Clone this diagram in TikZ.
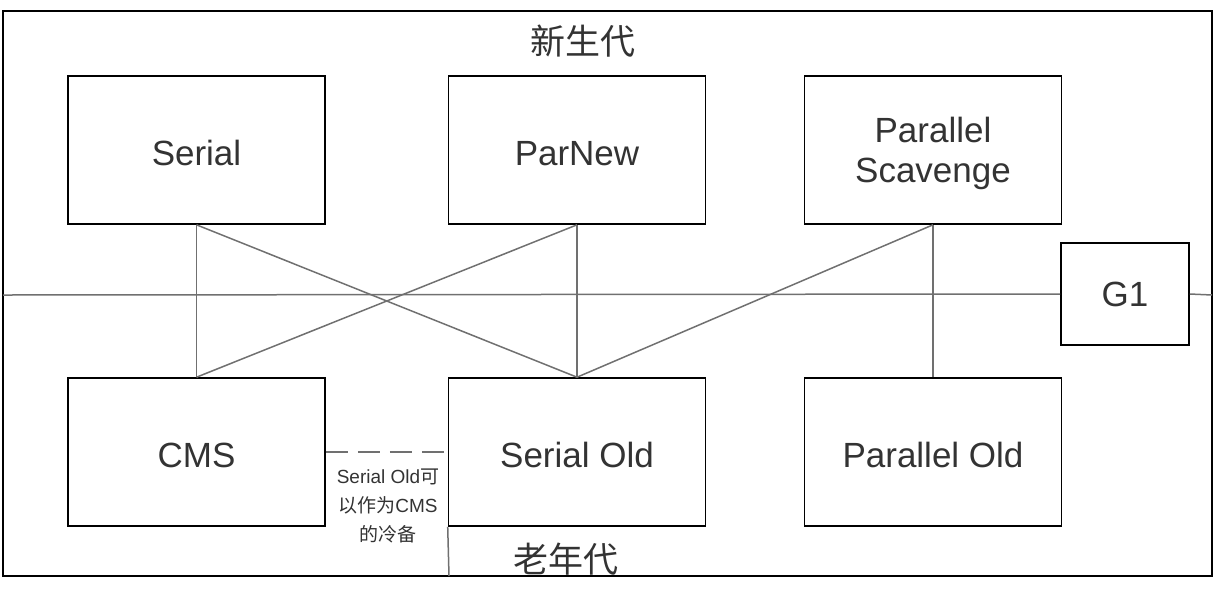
\documentclass[tikz,border=0pt]{standalone}
\usepackage{fontspec}
\setmainfont{Liberation Sans}
\newfontfamily\cjk{Noto Sans CJK SC}
\usetikzlibrary{positioning}
\definecolor{GText}{HTML}{333333}
\definecolor{GLine}{HTML}{707070}

\begin{document}
\begin{tikzpicture}[
  x=1pt,y=-1pt,
  every node/.style={text=GText},
  gcbox/.style={draw=black,line width=1.6pt,fill=white,
    minimum width=257pt,minimum height=148pt,align=center,
    text height=30pt,text depth=0pt,
    font=\fontsize{35}{40}\selectfont},
  link/.style={draw=GLine,line width=1.5pt},
  cold/.style={draw=GLine,line width=1.5pt,dash pattern=on 22pt off 10pt},
  gen/.style={font=\cjk\fontsize{35}{40}\selectfont}
]
  \useasboundingbox (0,0) rectangle (1214,598);
  \draw[line width=1.8pt] (3,11) rectangle (1212,576);
  \coordinate (fl) at (3,295);
  \coordinate (fr) at (1212,295);
  \coordinate (fb) at (449,576);

  % young generation collectors
  \node[gcbox] (serial) at (196.5,150) {Serial};
  \node[gcbox] (parnew) at (577,150) {ParNew};
  \node[gcbox,text height=] (pscav) at (933,150) {Parallel\\Scavenge};
  % old generation collectors
  \node[gcbox] (cms) at (196.5,452) {CMS};
  \node[gcbox] (sold) at (577,452) {Serial Old};
  \node[gcbox] (pold) at (933,452) {Parallel Old};
  \node[gcbox,text height=,minimum width=128pt,minimum height=102pt] (gone)
    at (1125,294) {G1};

  \node[gen] (young) at (583,41) {新生代};
  \node[gen] (old) at (566,559) {老年代};

  \draw[link] (fl) -- (gone.west);
  \draw[link] (gone.east) -- (fr);
  \draw[link] (sold.south west) -- (fb);

  \draw[link] (serial.south) -- (cms.north);
  \draw[link] (serial.south) -- (sold.north);
  \draw[link] (parnew.south) -- (cms.north);
  \draw[link] (parnew.south) -- (sold.north);
  \draw[link] (pscav.south) -- (sold.north);
  \draw[link] (pscav.south) -- (pold.north);
  \draw[cold] (cms.east) -- (sold.west);
  \node[align=center,font=\fontsize{19}{29}\selectfont] (backup)
    at (388,506) {Serial Old{\cjk 可}\\{\cjk 以作为}CMS\\{\cjk 的冷备}};
\end{tikzpicture}
\end{document}
